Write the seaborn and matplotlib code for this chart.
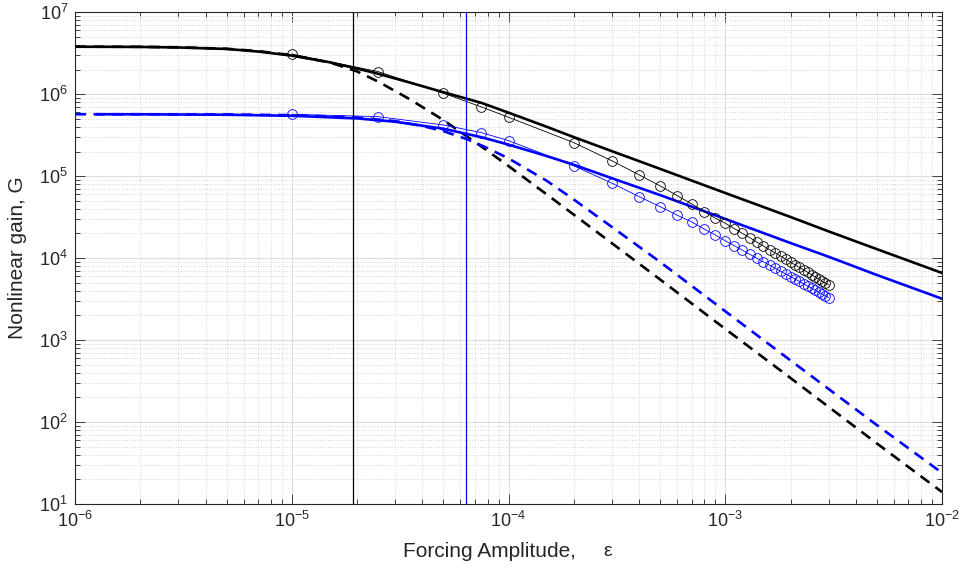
"""Nonlinear gain vs forcing amplitude, log-log, two cases (black / blue)."""

import matplotlib

matplotlib.use("Agg")
import matplotlib.pyplot as plt
import matplotlib.ticker as mticker
import pandas as pd
import seaborn as sns

# simulation points (circles), same amplitudes for both cases
eps_sim = [1e-5, 2.5e-5, 5e-5, 7.5e-5, 1e-4,
           2e-4, 3e-4, 4e-4, 5e-4, 6e-4, 7e-4, 8e-4, 9e-4, 1e-3,
           1.1e-3, 1.2e-3, 1.3e-3, 1.4e-3, 1.5e-3, 1.6e-3, 1.7e-3, 1.8e-3, 1.9e-3, 2.0e-3,
           2.1e-3, 2.2e-3, 2.3e-3, 2.4e-3, 2.5e-3, 2.6e-3, 2.7e-3, 2.8e-3, 2.9e-3, 3.0e-3]
gain_sim_black = [3.10e6, 1.89e6, 1.03e6, 7.0e5, 5.24e5,
                  2.57e5, 1.54e5, 1.04e5, 7.62e4, 5.80e4, 4.59e4, 3.70e4, 3.08e4, 2.67e4,
                  2.30e4, 2.00e4, 1.77e4, 1.57e4, 1.41e4, 1.27e4, 1.16e4, 1.06e4, 9.7e3, 8.9e3,
                  8.3e3, 7.7e3, 7.2e3, 6.7e3, 6.3e3, 5.9e3, 5.6e3, 5.25e3, 4.97e3, 4.72e3]
gain_sim_blue = [5.70e5, 5.33e5, 4.22e5, 3.40e5, 2.72e5,
                 1.34e5, 8.22e4, 5.64e4, 4.26e4, 3.34e4, 2.77e4, 2.26e4, 1.92e4, 1.63e4,
                 1.42e4, 1.25e4, 1.11e4, 9.98e3, 9.03e3, 8.22e3, 7.53e3, 6.93e3, 6.41e3, 5.96e3,
                 5.55e3, 5.19e3, 4.86e3, 4.57e3, 4.31e3, 4.07e3, 3.85e3, 3.65e3, 3.48e3, 3.31e3]

# model curves, solid
eps_model_black = [1e-6, 2e-6, 3e-6, 5e-6, 7e-6, 1e-5, 1.5e-5, 2e-5, 2.5e-5, 3.5e-5, 5e-5, 7.5e-5,
                   1e-4, 1.5e-4, 2e-4, 3e-4, 5e-4, 1e-3, 2e-3, 3e-3, 5e-3, 1e-2]
gain_model_black = [3.80e6, 3.78e6, 3.72e6, 3.57e6, 3.32e6, 2.96e6, 2.45e6, 2.06e6, 1.78e6, 1.39e6,
                    1.06e6, 7.85e5, 5.96e5, 4.01e5, 3.00e5, 2.02e5, 1.23e5, 6.24e4, 3.18e4, 2.12e4,
                    1.29e4, 6.6e3]
eps_model_blue = [1.25e-6, 2e-6, 5e-6, 1e-5, 2e-5, 3e-5, 5e-5, 7.5e-5, 1e-4,
                  1.5e-4, 2e-4, 3e-4, 5e-4, 1e-3, 2e-3, 3e-3, 5e-3, 1e-2]
gain_model_blue = [5.70e5, 5.69e5, 5.62e5, 5.46e5, 5.07e5, 4.62e5, 3.80e5, 2.99e5, 2.43e5,
                   1.76e5, 1.38e5, 9.44e4, 5.89e4, 3.01e4, 1.53e4, 1.04e4, 6.24e3, 3.20e3]

# linear-damping curves, dashed
eps_lin_black = [1e-6, 2e-6, 3e-6, 5e-6, 7e-6, 1e-5, 1.5e-5, 2e-5, 2.5e-5, 3.5e-5, 5e-5, 7.5e-5,
                 1e-4, 1.5e-4, 2e-4, 3e-4, 5e-4, 1e-3, 2e-3, 5e-3, 1e-2]
gain_lin_black = [3.81e6, 3.79e6, 3.74e6, 3.59e6, 3.36e6, 3.00e6, 2.44e6, 1.90e6, 1.43e6, 8.7e5,
                  4.85e5, 2.3e5, 1.33e5, 6.0e4, 3.4e4, 1.52e4, 5.5e3, 1.37e3, 345, 55, 14]
eps_lin_blue = [1e-6, 2e-6, 5e-6, 1e-5, 2e-5, 3e-5, 4e-5, 5e-5, 6.5e-5, 8e-5,
                1e-4, 1.5e-4, 2e-4, 3e-4, 5e-4, 1e-3, 2e-3, 5e-3, 1e-2]
gain_lin_blue = [5.70e5, 5.70e5, 5.66e5, 5.56e5, 5.2e5, 4.7e5, 4.1e5, 3.55e5, 2.8e5, 2.2e5,
                 1.65e5, 8.8e4, 5.2e4, 2.4e4, 9.0e3, 2.25e3, 565, 92, 24]

# threshold amplitudes (vertical lines)
eps_crit = [1.91e-5, 6.38e-5]
crit_colors = ["black", "#0000ff"]


def make_plot() -> None:
    sns.set_theme(style="ticks")
    plt.rcParams["font.family"] = ["Liberation Sans", "DejaVu Sans"]
    plt.rcParams["mathtext.default"] = "regular"

    fig = plt.figure(figsize=(9.63, 5.69), dpi=100)
    ax = fig.add_axes([0.0779, 0.1142, 0.9003, 0.8642])
    ax.set_xscale("log")
    ax.set_yscale("log")

    dash = (0, (4.2, 2.8))
    for eps, gain, col in [(eps_lin_black, gain_lin_black, "black"),
                           (eps_lin_blue, gain_lin_blue, "#0000ff")]:
        df = pd.DataFrame({"eps": eps, "gain": gain})
        sns.lineplot(data=df, x="eps", y="gain", ax=ax, color=col, lw=1.9,
                     linestyle=dash, estimator=None, sort=False)

    for eps, gain, col in [(eps_model_black, gain_model_black, "black"),
                           (eps_model_blue, gain_model_blue, "#0000ff")]:
        df = pd.DataFrame({"eps": eps, "gain": gain})
        sns.lineplot(data=df, x="eps", y="gain", ax=ax, color=col, lw=1.9,
                     estimator=None, sort=False)

    for gain, col in [(gain_sim_black, "black"), (gain_sim_blue, "#0000ff")]:
        df = pd.DataFrame({"eps": eps_sim, "gain": gain})
        sns.lineplot(data=df, x="eps", y="gain", ax=ax, color=col, lw=0.6,
                     marker="o", markersize=7, markerfacecolor="none",
                     markeredgecolor=col, markeredgewidth=0.6,
                     estimator=None, sort=False)

    for e, col in zip(eps_crit, crit_colors):
        ax.axvline(e, color=col, lw=0.9)

    ax.set_xlim(1e-6, 1e-2)
    ax.set_ylim(1e1, 1e7)

    ax.xaxis.set_major_locator(mticker.LogLocator(base=10, numticks=10))
    ax.yaxis.set_major_locator(mticker.LogLocator(base=10, numticks=10))
    for axis in (ax.xaxis, ax.yaxis):
        axis.set_minor_locator(mticker.LogLocator(base=10, subs=range(2, 10), numticks=20))
        axis.set_minor_formatter(mticker.NullFormatter())

    ax.grid(True, which="major", color="#dcdcdc", lw=0.8)
    ax.grid(True, which="minor", color="#d6d6d6", ls=":", lw=0.7)
    ax.set_axisbelow(True)

    ax.tick_params(which="both", direction="in", top=True, right=True,
                   colors="#262626", labelsize=13, width=0.6)
    ax.tick_params(which="major", length=7, pad=5)
    ax.tick_params(which="minor", length=3.5)
    for sp in ax.spines.values():
        sp.set_color("#262626")
        sp.set_linewidth(0.8)

    ax.set_xlabel("Forcing Amplitude,", fontsize=15, color="#262626", va="center")
    ax.xaxis.set_label_coords(0.4775, -0.0956)
    ax.text(0.6148, -0.0956, "$\\epsilon$", transform=ax.transAxes, fontsize=14,
            math_fontfamily="cm", color="#262626", ha="center", va="center")
    ax.set_ylabel("Nonlinear gain, G", fontsize=15, color="#262626", va="center")
    ax.yaxis.set_label_coords(-0.066, 0.5)

    fig.savefig("out.png", dpi=100)


if __name__ == "__main__":
    make_plot()
